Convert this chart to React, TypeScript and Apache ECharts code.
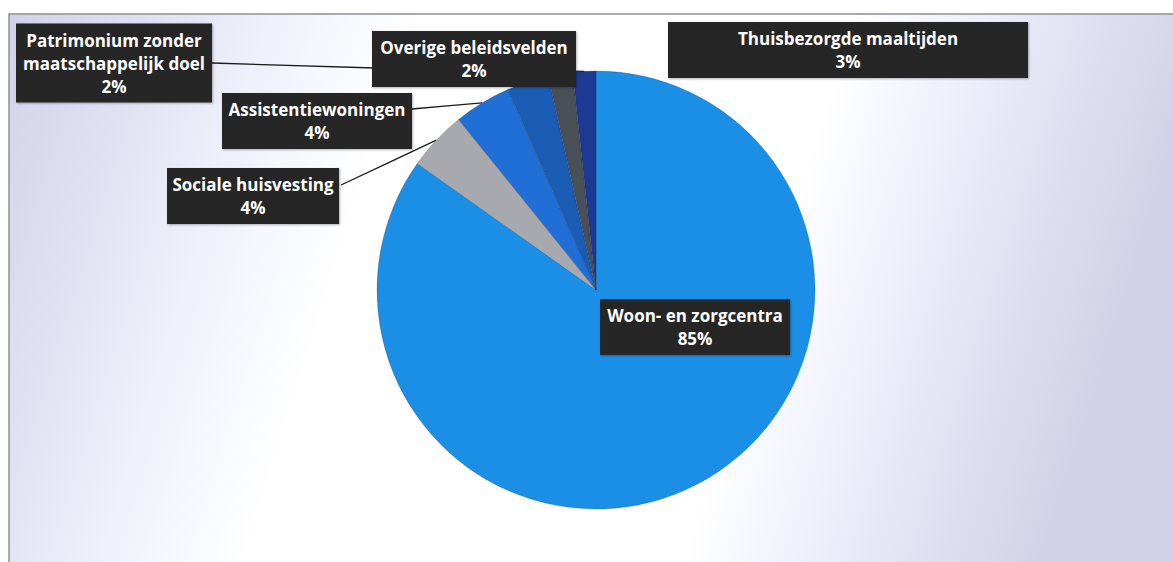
import React, { useEffect, useRef } from "react";
import * as echarts from "echarts";

const categories = [
  "Woon- en zorgcentra",
  "Sociale huisvesting",
  "Assistentiewoningen",
  "Thuisbezorgde maaltijden",
  "Overige beleidsvelden",
  "Patrimonium zonder maatschappelijk doel",
];
const shares = [84.8, 4.4, 4.2, 3.1, 1.8, 1.7];
const colors = ["#1b8fe6", "#a7a9ae", "#1f6fd6", "#1b5cb4", "#4a5058", "#1c3a94"];

const labelBoxes: Record<string, { cx: number; cy: number; w: number; lines: string[]; elbow?: [number, number]; end?: [number, number] }> = {
  "Woon- en zorgcentra": { cx: 695, cy: 327, w: 190, lines: ["Woon- en zorgcentra"] },
  "Sociale huisvesting": { cx: 253, cy: 196, w: 172, lines: ["Sociale huisvesting"], end: [341, 185] },
  "Assistentiewoningen": { cx: 317, cy: 121, w: 190, lines: ["Assistentiewoningen"], end: [412, 109] },
  "Thuisbezorgde maaltijden": { cx: 848, cy: 50, w: 360, lines: ["Thuisbezorgde maaltijden"] },
  "Overige beleidsvelden": { cx: 474, cy: 59, w: 204, lines: ["Overige beleidsvelden"] },
  "Patrimonium zonder maatschappelijk doel": {
    cx: 114, cy: 63, w: 196,
    lines: ["Patrimonium zonder", "maatschappelijk doel"],
    elbow: [375, 68], end: [212, 63],
  },
};

export default function App() {
  const ref = useRef<HTMLDivElement>(null);
  useEffect(() => {
    const chart = echarts.init(ref.current!, null, { renderer: "svg" });
    const data = categories.map((c, i) => ({
      name: c,
      value: shares[i],
      itemStyle: { color: colors[i] },
      label: { width: labelBoxes[c].w - 8 },
    }));
    chart.setOption({
      animation: false,
      backgroundColor: "#ffffff",
      graphic: [
        {
          type: "rect",
          silent: true,
          z: -10,
          shape: { x: 9, y: 14, width: 1180, height: 560 },
          style: {
            fill: {
              type: "linear",
              x: 0,
              y: 0,
              x2: 1,
              y2: 0.15,
              colorStops: [
                { offset: 0, color: "#d3d1e7" },
                { offset: 0.12, color: "#e0e2f3" },
                { offset: 0.26, color: "#f4f6fd" },
                { offset: 0.34, color: "#ffffff" },
                { offset: 0.7, color: "#ffffff" },
                { offset: 0.8, color: "#eef0fb" },
                { offset: 0.9, color: "#e0e0f2" },
                { offset: 1, color: "#d3d1e7" },
              ],
            },
            stroke: "#8e8e98",
            lineWidth: 1.5,
          },
        },
      ],
      series: [
        {
          type: "pie",
          center: [596, 290],
          radius: 219,
          startAngle: 90,
          clockwise: true,
          percentPrecision: 0,
          data,
          itemStyle: { borderColor: "rgba(0,0,0,0.25)", borderWidth: 0.6 },
          label: {
            show: true,
            position: "outside",
            formatter: (p: any) => labelBoxes[p.name].lines.join("\n") + "\n" + Math.round(p.percent) + "%",
            color: "#ffffff",
            fontFamily: "'Open Sans', Lato, sans-serif",
            fontWeight: "bold",
            fontSize: 17,
            lineHeight: 23,
            align: "center",
            backgroundColor: "#262626",
            padding: [5, 4, 5, 4],
            shadowColor: "rgba(0,0,0,0.3)",
            shadowBlur: 2,
            shadowOffsetX: 1,
            shadowOffsetY: 1,
          },
          labelLine: {
            show: true,
            lineStyle: { color: "#1a1a1a", width: 1.3 },
          },
          labelLayout: (params: any) => {
            const name = categories[params.dataIndex];
            const b = labelBoxes[name];
            const res: any = {
              x: b.cx,
              y: b.cy,
              align: "center",
              verticalAlign: "middle",
              moveOverlap: false,
              hideOverlap: false,
            };
            const pts = params.labelLinePoints;
            if (b.end && pts) {
              const start = pts[0];
              const mid = b.elbow ? b.elbow : [(start[0] + b.end[0]) / 2, (start[1] + b.end[1]) / 2];
              res.labelLinePoints = [start, mid, b.end];
            } else if (pts) {
              const s = pts[0];
              res.labelLinePoints = [s, s, s];
            }
            return res;
          },
        },
      ],
    });
    return () => chart.dispose();
  }, []);
  return (
    <div
      ref={ref}
      style={{ position: "absolute", left: 0, top: 0, width: 1173, height: 562 }}
    />
  );
}
